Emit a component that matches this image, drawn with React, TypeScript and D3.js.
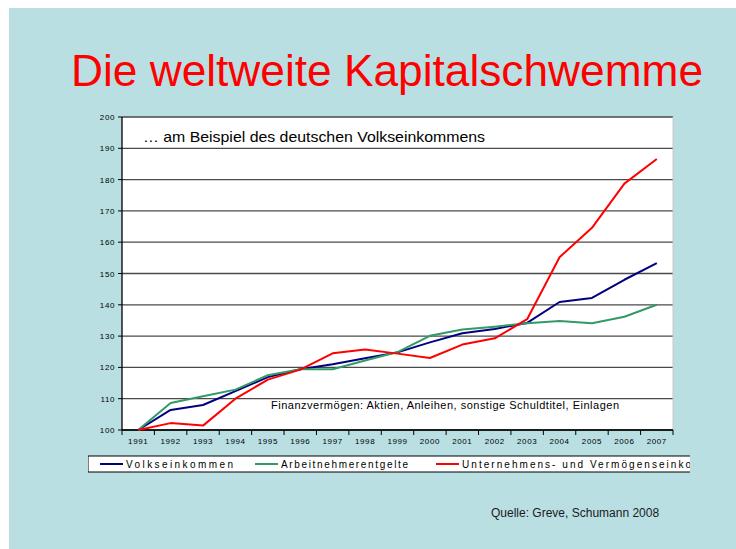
import React from "react";
import * as d3 from "d3";

const years = ["1991","1992","1993","1994","1995","1996","1997","1998","1999","2000","2001","2002","2003","2004","2005","2006","2007"];
const volkseinkommen = [100,106.4,108,112.4,116.9,119.4,121,122.9,124.8,128,130.9,132.3,134.2,140.9,142.2,148,153.3];
const arbeitnehmer = [100,108.6,110.8,112.9,117.5,119.4,119.4,122.2,124.9,130.1,132.1,133,134.1,134.8,134.1,136.2,140];
const unternehmen = [100,102.2,101.4,110,116.1,119.3,124.5,125.7,124.4,123,127.3,129.3,135.4,155.2,164.6,178.7,186.6];
const yTicks = [100,110,120,130,140,150,160,170,180,190,200];
const seriesNames = ["Volkseinkommen","Arbeitnehmerentgelte","Unternehmens- und Vermögenseinkommen"];
const seriesColors = ["#000080","#339966","#ff0000"];

export default function App() {
  const W = 736, H = 549;
  const x = d3.scaleBand<string>().domain(years).range([122, 673]).padding(0);
  const y = d3.scaleLinear().domain([100, 200]).range([430, 117]);
  const cx = (d: string) => (x(d) as number) + x.bandwidth() / 2;
  const line = d3.line<number>().x((_, i) => cx(years[i])).y((v) => y(v));
  const data = [volkseinkommen, arbeitnehmer, unternehmen];
  const font = "'Liberation Sans', Arial, sans-serif";
  const legendX = [100, 255, 436];
  const legendLen = [107, 127, 265];
  return (
    <svg width={W} height={H} style={{ position: "absolute", left: 0, top: 0 }} fontFamily={font}>
      <rect x={0} y={0} width={W} height={H} fill="#ffffff" />
      <rect x={9} y={8} width={W - 9} height={H - 8} fill="#b9dfe3" />
      <text x={71} y={86} fontSize={44} fill="#ff0000" textLength={632} lengthAdjust="spacingAndGlyphs">Die weltweite Kapitalschwemme</text>
      {/* plot area */}
      <rect x={122} y={117} width={551} height={313} fill="#ffffff" />
      {yTicks.map((t) => (
        <g key={t}>
          <line x1={122} x2={673} y1={y(t)} y2={y(t)} stroke="#4a4a4a" strokeWidth={1.3} />
          <line x1={118} x2={122} y1={y(t)} y2={y(t)} stroke="#000" strokeWidth={1} />
          <text x={115} y={y(t) + 3} fontSize={8} textAnchor="end" letterSpacing={0.6} fill="#000">{t}</text>
        </g>
      ))}
      <line x1={673} x2={673} y1={117} y2={430} stroke="#c8c8c8" strokeWidth={1} />
      <line x1={122} x2={122} y1={117} y2={430} stroke="#000" strokeWidth={1.3} />
      <line x1={122} x2={673} y1={430} y2={430} stroke="#000" strokeWidth={1.3} />
      {years.map((yr) => (
        <line key={"t" + yr} x1={x(yr) as number} x2={x(yr) as number} y1={430} y2={435} stroke="#000" />
      ))}
      <line x1={673} x2={673} y1={430} y2={435} stroke="#000" />
      {years.map((yr) => (
        <text key={yr} x={cx(yr)} y={444} fontSize={8} textAnchor="middle" letterSpacing={0.6} fill="#000">{yr}</text>
      ))}
      {data.map((d, i) => (
        <path key={i} d={line(d) || ""} fill="none" stroke={seriesColors[i]} strokeWidth={2} strokeLinejoin="round" />
      ))}
      <text x={143} y={142} fontSize={15} fill="#000" textLength={342} lengthAdjust="spacingAndGlyphs">… am Beispiel des deutschen Volkseinkommens</text>
      <text x={271} y={409} fontSize={11} fill="#000" textLength={348} lengthAdjust="spacing">Finanzvermögen: Aktien, Anleihen, sonstige Schuldtitel, Einlagen</text>
      {/* legend */}
      <defs>
        <clipPath id="legclip"><rect x={88} y={450} width={602} height={30} /></clipPath>
      </defs>
      <rect x={88} y={456} width={620} height={16} fill="#ffffff" stroke="#000" strokeWidth={1} clipPath="url(#legclip)" />
      <g clipPath="url(#legclip)">
        {seriesNames.map((n, i) => (
          <g key={n}>
            <line x1={legendX[i]} x2={legendX[i] + 23} y1={464} y2={464} stroke={seriesColors[i]} strokeWidth={2} />
            <text x={legendX[i] + 26} y={468} fontSize={10} fill="#000" textLength={legendLen[i]} lengthAdjust="spacing">{n}</text>
          </g>
        ))}
      </g>
      <text x={491} y={517} fontSize={12} fill="#1a1a1a">Quelle: Greve, Schumann 2008</text>
    </svg>
  );
}
